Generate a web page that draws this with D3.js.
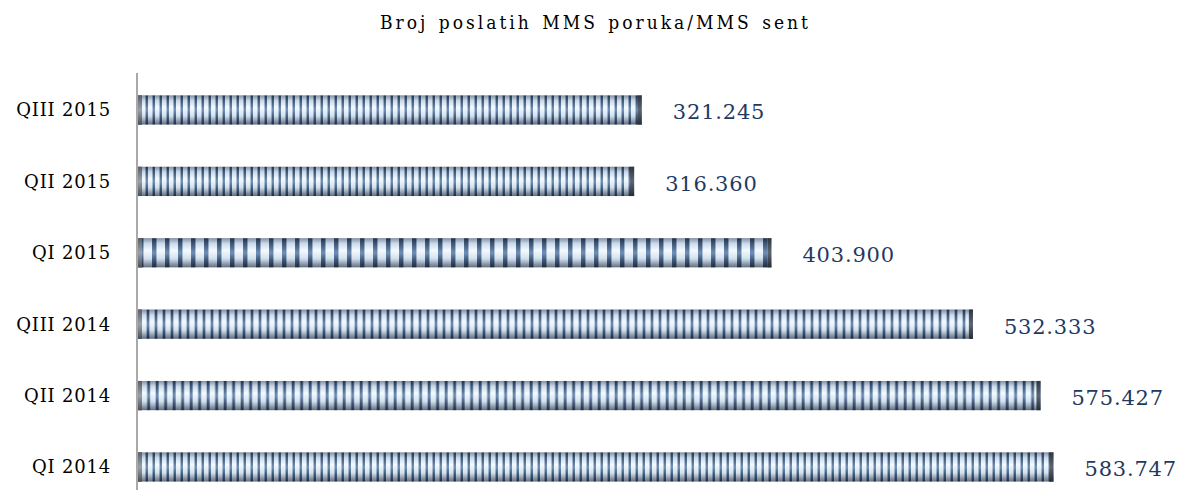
<!DOCTYPE html>
<html>
<head>
<meta charset="utf-8">
<script src="https://cdn.jsdelivr.net/npm/d3@7"></script>
<style>
  html, body { margin: 0; padding: 0; background: #fff; }
  svg { display: block; }
</style>
</head>
<body>
<svg id="chart" width="1191" height="492"></svg>
<script>
// MMS sent per quarter (top to bottom as drawn)
const quarters = ['QIII 2015', 'QII 2015', 'QI 2015', 'QIII 2014', 'QII 2014', 'QI 2014'];
const mmsSent = [321245, 316360, 403900, 532333, 575427, 583747];
const valueLabels = ['321.245', '316.360', '403.900', '532.333', '575.427', '583.747'];

// stripe width of the bar texture, per bar
const stripePeriod = [7, 7, 13, 8, 8.5, 7];

const svg = d3.select('#chart');
const width = 1191, height = 492;
const axisX = 137;

const x = d3.scaleLinear()
    .domain([0, 600000])
    .range([axisX + 1, axisX + 1 + 941]);

const y = d3.scaleBand()
    .domain(quarters)
    .range([74.3, 502.7])
    .paddingInner(0.59)
    .paddingOuter(0.295);

const defs = svg.append('defs');

// vertical shading for the light part of the stripes
const lightGrad = defs.append('linearGradient')
    .attr('id', 'lightGrad').attr('x1', 0).attr('y1', 0).attr('x2', 0).attr('y2', 1);
[['0%', '#7f90a6'], ['18%', '#c9d9ea'], ['42%', '#f4fafe'], ['70%', '#d3e1ee'], ['100%', '#5d6c80']]
    .forEach(([o, c]) => lightGrad.append('stop').attr('offset', o).attr('stop-color', c));

const darkGrad = defs.append('linearGradient')
    .attr('id', 'darkGrad').attr('x1', 0).attr('y1', 0).attr('x2', 0).attr('y2', 1);
[['0%', '#243246'], ['30%', '#4d6a8e'], ['50%', '#6f90b8'], ['75%', '#3d5676'], ['100%', '#1f2a3a']]
    .forEach(([o, c]) => darkGrad.append('stop').attr('offset', o).attr('stop-color', c));

const capGrad = defs.append('linearGradient')
    .attr('id', 'capGrad').attr('x1', 0).attr('y1', 0).attr('x2', 0).attr('y2', 1);
[['0%', '#5a5f66'], ['50%', '#9aa0a8'], ['100%', '#4a4f56']]
    .forEach(([o, c]) => capGrad.append('stop').attr('offset', o).attr('stop-color', c));

const endGrad = defs.append('linearGradient')
    .attr('id', 'endGrad').attr('x1', 0).attr('y1', 0).attr('x2', 0).attr('y2', 1);
[['0%', '#2e3640'], ['50%', '#5c6672'], ['100%', '#262c34']]
    .forEach(([o, c]) => endGrad.append('stop').attr('offset', o).attr('stop-color', c));

quarters.forEach((q, i) => {
    const p = stripePeriod[i];
    const pat = defs.append('pattern')
        .attr('id', 'stripes' + i)
        .attr('patternUnits', 'userSpaceOnUse')
        .attr('x', x(0))
        .attr('y', y(q))
        .attr('width', p)
        .attr('height', y.bandwidth());
    pat.append('rect')
        .attr('width', p).attr('height', y.bandwidth())
        .attr('fill', 'url(#lightGrad)');
    pat.append('rect')
        .attr('x', p * 0.08)
        .attr('width', p * 0.34).attr('height', y.bandwidth())
        .attr('fill', 'url(#darkGrad)');
});

const bars = svg.append('g');

bars.selectAll('rect.bar')
    .data(quarters)
    .join('rect')
    .attr('class', 'bar')
    .attr('x', x(0))
    .attr('y', d => y(d))
    .attr('width', (d, i) => x(mmsSent[i]) - x(0))
    .attr('height', y.bandwidth())
    .attr('fill', (d, i) => `url(#stripes${i})`);

// left cap
bars.selectAll('rect.cap')
    .data(quarters)
    .join('rect')
    .attr('class', 'cap')
    .attr('x', x(0))
    .attr('y', d => y(d))
    .attr('width', 4)
    .attr('height', y.bandwidth())
    .attr('fill', 'url(#capGrad)');

// right end
bars.selectAll('rect.end')
    .data(quarters)
    .join('rect')
    .attr('class', 'end')
    .attr('x', (d, i) => x(mmsSent[i]) - 4)
    .attr('y', d => y(d))
    .attr('width', 4)
    .attr('height', y.bandwidth())
    .attr('fill', 'url(#endGrad)');

// axis line
svg.append('line')
    .attr('x1', axisX).attr('x2', axisX)
    .attr('y1', 73).attr('y2', 490)
    .attr('stroke', '#8c8c8c')
    .attr('stroke-width', 1.5);

// category labels
svg.append('g')
    .selectAll('text')
    .data(quarters)
    .join('text')
    .attr('x', 111)
    .attr('y', d => y(d) + y.bandwidth() / 2)
    .attr('dy', '0.35em')
    .attr('text-anchor', 'end')
    .attr('font-family', 'DejaVu Serif, serif')
    .attr('font-size', '18px')
    .attr('letter-spacing', '0.8px')
    .attr('fill', '#000')
    .text(d => d);

// value labels
svg.append('g')
    .selectAll('text')
    .data(quarters)
    .join('text')
    .attr('x', (d, i) => x(mmsSent[i]) + 31)
    .attr('y', d => y(d) + y.bandwidth() / 2 + 2)
    .attr('dy', '0.35em')
    .attr('font-family', 'DejaVu Serif, serif')
    .attr('font-size', '21px')
    .attr('letter-spacing', '0.8px')
    .attr('fill', '#1f3a5f')
    .text((d, i) => valueLabels[i]);

// title
svg.append('text')
    .attr('x', width / 2)
    .attr('y', 29)
    .attr('text-anchor', 'middle')
    .attr('font-family', 'DejaVu Serif Condensed, DejaVu Serif, serif')
    .attr('font-stretch', 'condensed')
    .attr('font-size', '19px')
    .attr('letter-spacing', '3px')
    .attr('word-spacing', '2px')
    .attr('fill', '#000')
    .text('Broj poslatih MMS poruka/MMS  sent');
</script>
</body>
</html>
